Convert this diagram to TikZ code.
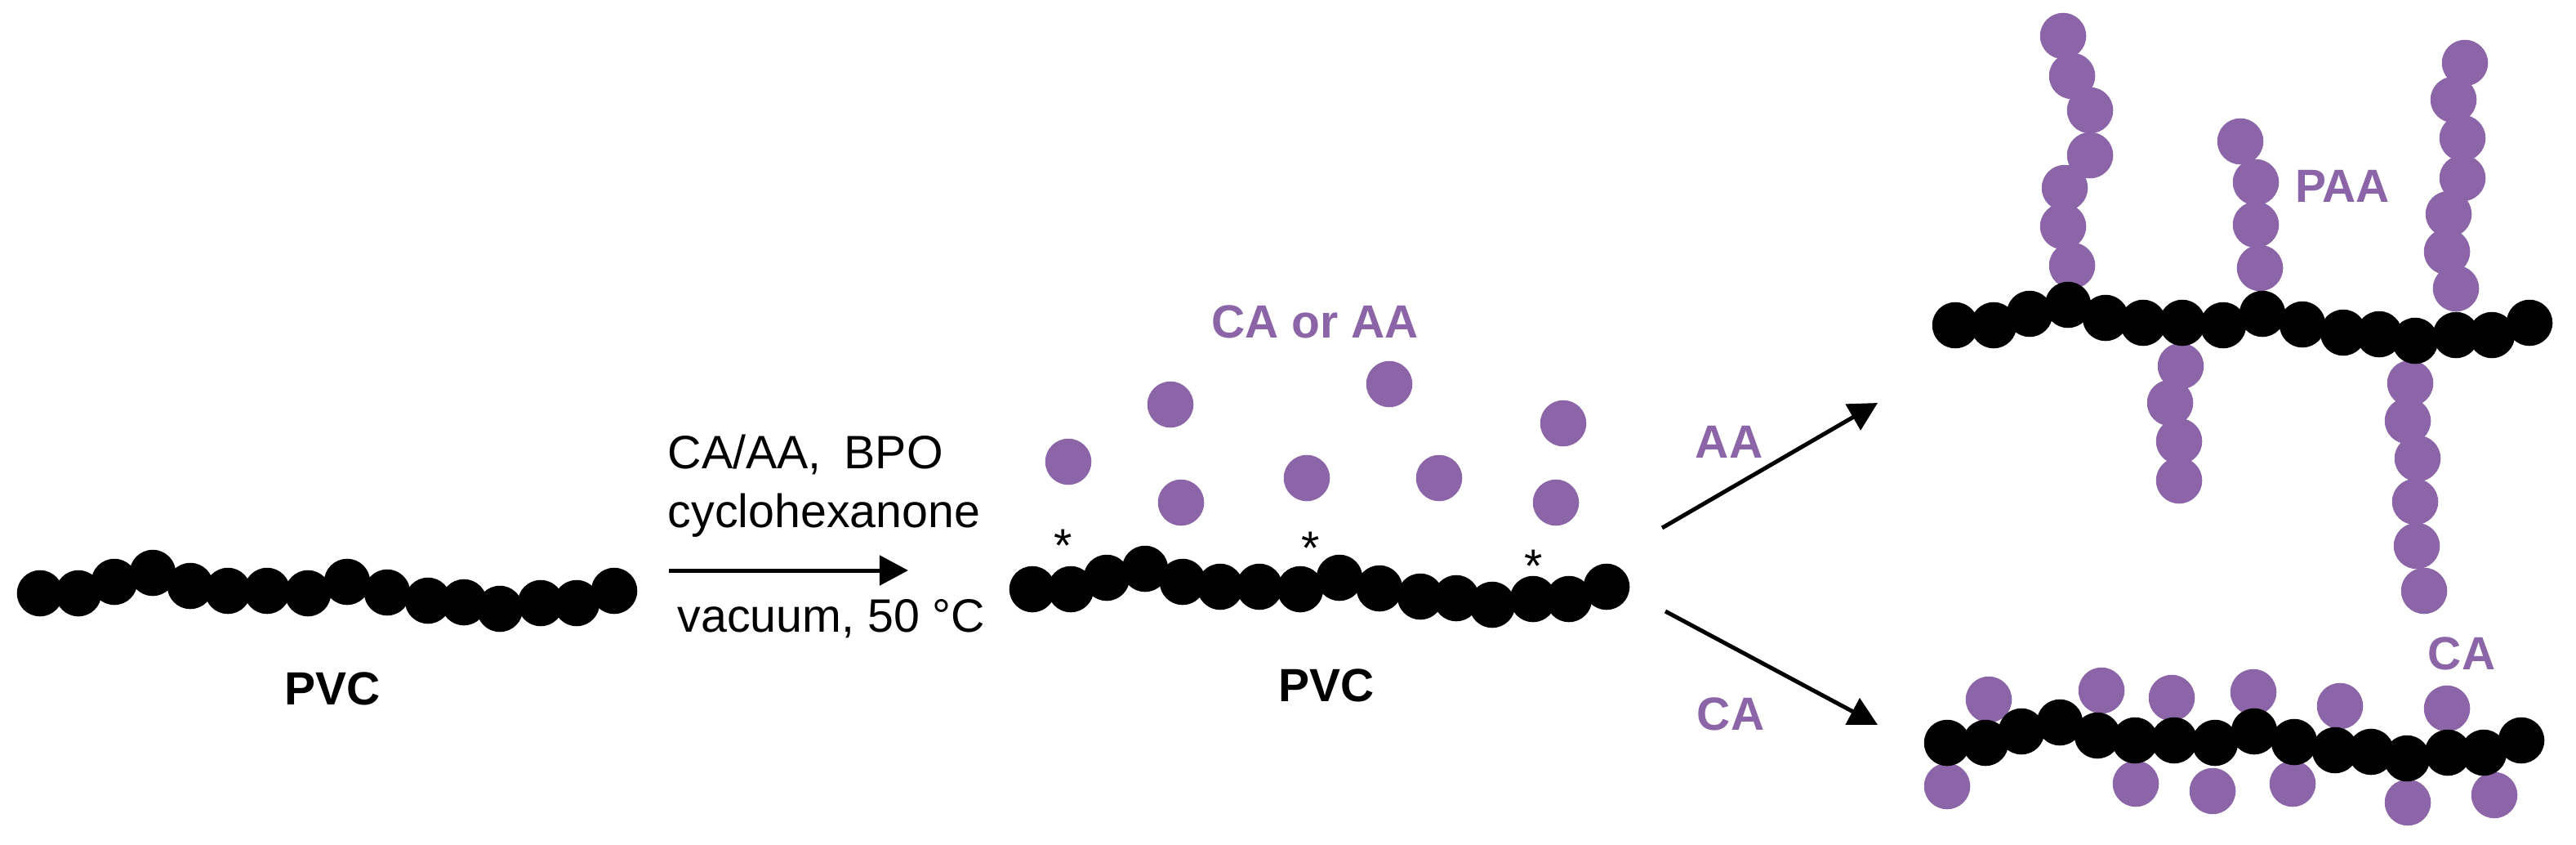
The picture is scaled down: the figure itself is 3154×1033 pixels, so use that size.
\documentclass[tikz,border=0pt]{standalone}
\usepackage{fontspec}
\setmainfont{Liberation Sans}
\usetikzlibrary{arrows.meta}
\definecolor{paaviolet}{HTML}{8C65A8}

\begin{document}
\begin{tikzpicture}[x=.01cm,y=-.01cm]
	\tikzset{
		bead/.style={circle,inner sep=0,minimum size=.565cm},
		blackbead/.style={bead,fill=black},
		violetbead/.style={bead,fill=paaviolet},
		plaintext/.style={inner sep=0,font=\fontsize{16.3}{18}\selectfont},
		boldtext/.style={plaintext,font=\fontsize{16.2}{18}\selectfont\bfseries},
		violettext/.style={boldtext,text=paaviolet},
		reaction/.style={line width=.05cm,-{Triangle[length=.35cm,width=.36cm]}},
		pvcchain/.pic={
			\foreach \x/\y [count=\i] in {49/726,96/726,140/712,187/701,233/717,279/723,327/723,377/726,425/712,474/725,524/735,568/737,612/745,662/738,706/738,752/723}
				\node[blackbead] (b\i) at (\x,\y) {};
		}
	}
	\useasboundingbox (0,0) rectangle (3154,1033);
	\foreach \x/\y [count=\i] in {1308/565,1433/495,1701/470,1914/518,1446/615,1600/585,1762/585,1905/615}
		\node[violetbead] (free\i) at (\x,\y) {};
	\foreach \x/\y [count=\i] in {2526/44,2537/93,2559/135,2559/190,2528/230,2526/277,2537/325}
		\node[violetbead] (graftA\i) at (\x,\y) {};
	\foreach \x/\y [count=\i] in {2743/173,2762/223,2762/275,2767/328}
		\node[violetbead] (graftB\i) at (\x,\y) {};
	\foreach \x/\y [count=\i] in {3018/77,3004/122,3015/169,3015/218,2998/262,2996/308,3007/353}
		\node[violetbead] (graftC\i) at (\x,\y) {};
	\foreach \x/\y [count=\i] in {2670/448,2657/493,2668/540,2668/588}
		\node[violetbead] (graftD\i) at (\x,\y) {};
	\foreach \x/\y [count=\i] in {2951/469,2948/515,2960/561,2957/614,2959/668,2968/723}
		\node[violetbead] (graftE\i) at (\x,\y) {};
	\foreach \x/\y [count=\i] in {2435/856,2573/845,2659/854,2759/847,2865/864,2996/867,2384/962,2615/959,2709/968,2807/959,2948/982,3054/973}
		\node[violetbead] (bound\i) at (\x,\y) {};
	\path
	(0,0) pic (chainA) {pvcchain}
	(1215,-5) pic (chainB) {pvcchain}
	(2345,-328) pic (chainC) {pvcchain}
	(2335,183) pic (chainD) {pvcchain};
	\node[boldtext] (pvcA) at (407,843) {PVC};
	\node[boldtext] (pvcB) at (1624,839) {PVC};
	\node[violettext] (caoraa) at (1610,394) {CA or AA};
	\node[violettext] (aa) at (2117,541) {AA};
	\node[violettext] (ca) at (2119,874) {CA};
	\node[violettext] (paa) at (2868,228) {PAA};
	\node[violettext] (cabound) at (3014,800) {CA};
	\node[plaintext,anchor=base west] (reagents) at (817,573) {CA/AA,\hspace{.12cm} BPO};
	\node[plaintext,anchor=base west] (solvent) at (817,645) {cyclohexanone};
	\node[plaintext,anchor=base west] (conditions) at (829,773) {vacuum, 50 °C};
	\foreach \x/\y [count=\i] in {1302/668,1605/671,1878/693}
		\node[plaintext] (site\i) at (\x,\y) {*};
	\coordinate (startA) at (819,698);
	\coordinate (endA) at (1112,698);
	\coordinate (startB) at (2035,646);
	\coordinate (endB) at (2299,493);
	\coordinate (startC) at (2039,748);
	\coordinate (endC) at (2299,887);
	\draw[reaction] (startA)--(endA);
	\draw[reaction] (startB)--(endB);
	\draw[reaction] (startC)--(endC);
\end{tikzpicture}
\end{document}
